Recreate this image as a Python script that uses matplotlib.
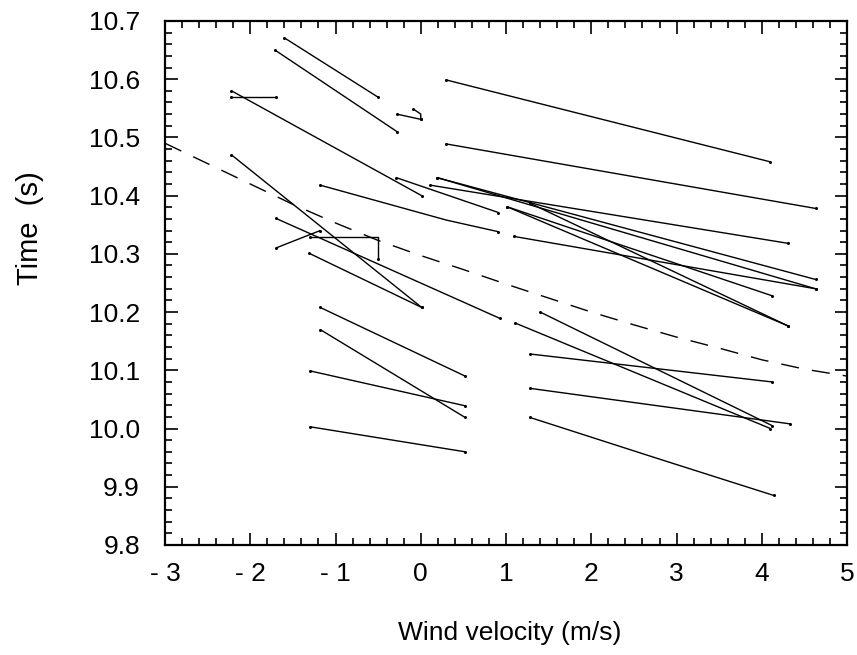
import matplotlib
matplotlib.use("Agg")
import matplotlib.pyplot as plt
from matplotlib.ticker import MultipleLocator, FormatStrFormatter

plt.rcParams['font.family'] = ['Liberation Sans', 'DejaVu Sans']

# --- data read off the reference: one list per measured run segment ---
# wind velocity (m/s)
run_x = [
    [0.29, 4.10],
    [0.29, 4.63],
    [-1.60, -0.50],
    [-1.71, -0.28],
    [-2.22, -1.70],
    [-2.22, 0.01],
    [-0.28, 0.00],
    [-0.09, 0.00, 0.00],
    [-2.22, 0.01],
    [-1.31, 0.01],
    [-1.70, 0.93],
    [-1.70, -1.18],
    [-1.30, -0.50, -0.50],
    [-1.18, 0.30, 0.91],
    [-0.29, 0.91],
    [0.11, 4.31],
    [0.19, 4.63],
    [0.19, 4.63],
    [1.01, 4.12],
    [1.01, 4.31],
    [1.28, 4.31],
    [1.09, 4.63],
    [-1.18, 0.52],
    [-1.18, 0.52],
    [-1.30, 0.52],
    [-1.30, 0.52],
    [1.11, 4.10],
    [1.40, 4.12],
    [1.28, 4.12],
    [1.28, 4.33],
    [1.28, 2.83, 4.14],
]
# time (s)
run_y = [
    [10.599, 10.458],
    [10.489, 10.378],
    [10.671, 10.569],
    [10.650, 10.510],
    [10.570, 10.570],
    [10.580, 10.400],
    [10.540, 10.531],
    [10.549, 10.540, 10.531],
    [10.470, 10.208],
    [10.301, 10.208],
    [10.361, 10.189],
    [10.310, 10.340],
    [10.329, 10.329, 10.291],
    [10.418, 10.358, 10.338],
    [10.431, 10.371],
    [10.418, 10.318],
    [10.431, 10.256],
    [10.431, 10.240],
    [10.381, 10.228],
    [10.381, 10.176],
    [10.387, 10.176],
    [10.330, 10.240],
    [10.208, 10.090],
    [10.170, 10.019],
    [10.099, 10.039],
    [10.003, 9.960],
    [10.181, 10.000],
    [10.200, 10.005],
    [10.128, 10.080],
    [10.069, 10.008],
    [10.019, 9.946, 9.885],
]

# dashed reference curve
curve_x = [-3, -2.5, -2, -1.5, -1, -0.5, 0, 0.5, 1, 1.5, 2, 2.5, 3, 3.5, 4, 4.5, 5]
curve_y = [10.49, 10.455, 10.42, 10.385, 10.353, 10.323, 10.297, 10.273, 10.248,
           10.224, 10.200, 10.178, 10.157, 10.138, 10.118, 10.102, 10.090]

xtick_vals = [-3, -2, -1, 0, 1, 2, 3, 4, 5]
xtick_text = ["- 3", "- 2", "- 1", "0", "1", "2", "3", "4", "5"]

fig = plt.figure(figsize=(8.57, 6.55), dpi=100)
ax = fig.add_axes([0.1925, 0.168, 0.796, 0.800])

for xs, ys in zip(run_x, run_y):
    ax.plot(xs, ys, color='black', linewidth=1.0, solid_capstyle='butt',
            marker='o', markersize=1.2, markevery=[0, len(xs) - 1])

ax.plot(curve_x, curve_y, color='black', linewidth=1.0, dashes=(13, 9.5))

ax.set_xlim(-3, 5)
ax.set_ylim(9.8, 10.7)

ax.xaxis.set_major_locator(MultipleLocator(1))
ax.xaxis.set_minor_locator(MultipleLocator(0.2))
ax.yaxis.set_major_locator(MultipleLocator(0.1))
ax.yaxis.set_minor_locator(MultipleLocator(0.02))
ax.yaxis.set_major_formatter(FormatStrFormatter('%.1f'))
ax.set_xticks(xtick_vals)
ax.set_xticklabels(xtick_text)

ax.tick_params(which='both', direction='in', top=True, right=True, width=1.2,
               labelsize=19)
ax.tick_params(which='major', length=9)
ax.tick_params(which='minor', length=5)
ax.tick_params(axis='x', which='major', pad=12)
ax.tick_params(axis='y', which='major', pad=18)

for sp in ax.spines.values():
    sp.set_linewidth(1.6)

ax.set_xlabel("Wind velocity (m/s)", fontsize=19)
ax.set_ylabel("Time  (s)", fontsize=21)
ax.xaxis.set_label_coords(0.506, -0.145)
ax.yaxis.set_label_coords(-0.177, 0.605)

fig.savefig("out.png", dpi=100)
